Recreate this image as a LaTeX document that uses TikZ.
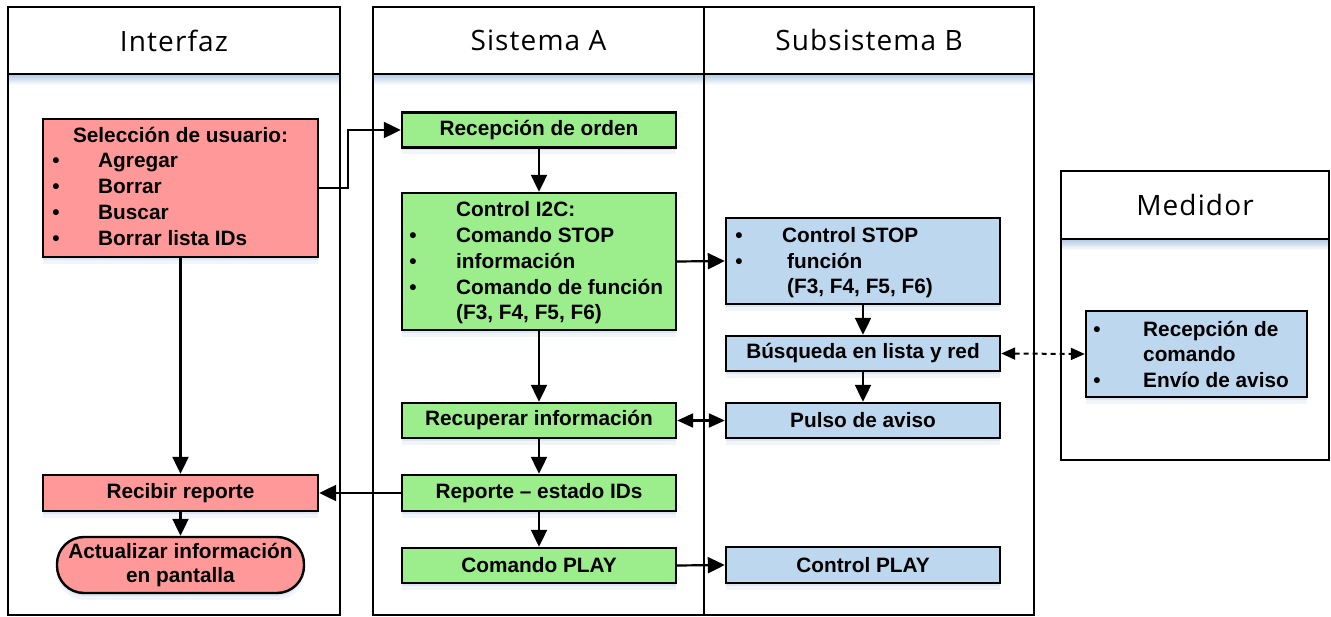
\documentclass[tikz,border=0pt]{standalone}
\usepackage{fontspec}
\setmainfont{Liberation Sans}
\newfontfamily\hdrfont{Open Sans}[LetterSpace=4]
\usetikzlibrary{arrows.meta,shadows}

\definecolor{redfill}{HTML}{FF9999}
\definecolor{greenfill}{HTML}{9CEE8C}
\definecolor{bluefill}{HTML}{BDD7EE}
\definecolor{shadowc}{HTML}{B8CCE6}

\newcommand\bodyf{\fontsize{20.8}{24}\selectfont\bfseries}

\tikzset{
  lane/.style={draw=black, line width=1.8pt},
  hdr/.style={font=\hdrfont\fontsize{28}{30}\selectfont, inner sep=0pt},
  box/.style={draw=black, line width=2.4pt, rectangle, inner sep=0pt,
    font=\bodyf,
    drop shadow={fill=shadowc, opacity=.35, shadow xshift=0pt, shadow yshift=-3pt},
    drop shadow={fill=shadowc, opacity=.2, shadow xshift=0pt, shadow yshift=-7pt}},
  redbox/.style={box, fill=redfill},
  greenbox/.style={box, fill=greenfill},
  bluebox/.style={box, fill=bluefill},
  txt/.style={font=\bodyf, inner sep=0pt},
  arr/.style={line width=2.2pt, -{Triangle[length=17pt,width=16pt]}},
  dblarr/.style={line width=2.2pt, {Triangle[length=16pt,width=14pt]}-{Triangle[length=16pt,width=14pt]}},
  dasharr/.style={line width=2pt, dash pattern=on 5pt off 4pt,
    {Triangle[length=14pt,width=12pt]}-{Triangle[length=14pt,width=12pt]}},
}

\begin{document}
\begin{tikzpicture}[x=1pt, y=-1pt]
\useasboundingbox (0,0) rectangle (1331,617);

% header shading under the lane titles
\shade[top color=shadowc, bottom color=white] (9,75) rectangle (339,85);
\shade[top color=shadowc, bottom color=white] (374,75) rectangle (1033,85);
\shade[top color=shadowc, bottom color=white] (1062,240) rectangle (1328,250);

% swim lanes
\draw[lane] (8,7) rectangle (340,615);
\draw[lane] (8,74) -- (340,74);
\draw[lane] (373,7) rectangle (704,615);
\draw[lane] (704,7) rectangle (1034,615);
\draw[lane] (373,74) -- (1034,74);
\draw[lane] (1061,171) rectangle (1329,460);
\draw[lane] (1061,239) -- (1329,239);

\node[hdr] (hint) at (174,40.5) {Interfaz};
\node[hdr] (hsa) at (538.5,40.5) {Sistema A};
\node[hdr] (hsb) at (869,40.5) {Subsistema B};
\node[hdr] (hmed) at (1195,205) {Medidor};

% Interfaz
\node[redbox, minimum width=275pt, minimum height=138pt] (sel) at (180.5,188) {};
\node[txt, anchor=base] (selt) at (180.5,143) {Selección de usuario:};
\node[txt, anchor=base] (selb1) at (56,168) {\textbullet};
\node[txt, anchor=base] (selb2) at (56,194) {\textbullet};
\node[txt, anchor=base] (selb3) at (56,220) {\textbullet};
\node[txt, anchor=base] (selb4) at (56,246) {\textbullet};
\node[txt, anchor=base west] (sel1) at (98,168) {Agregar};
\node[txt, anchor=base west] (sel2) at (98,194) {Borrar};
\node[txt, anchor=base west] (sel3) at (98,220) {Buscar};
\node[txt, anchor=base west] (sel4) at (98,246) {Borrar lista IDs};

\node[redbox, minimum width=275pt, minimum height=36pt] (recv) at (180.5,493) {Recibir reporte};
\node[redbox, rounded corners=27pt, minimum width=247pt, minimum height=56pt, align=center] (act) at (180.5,565) {Actualizar información\\en pantalla};

% Sistema A
\node[greenbox, minimum width=274pt, minimum height=35pt] (rec) at (539,130) {Recepción de orden};
\node[greenbox, minimum width=274pt, minimum height=137pt] (i2c) at (539,261.5) {};
\node[txt, anchor=base west] (i2ct) at (456,217) {Control I2C:};
\node[txt, anchor=base] (i2cb1) at (413,243) {\textbullet};
\node[txt, anchor=base] (i2cb2) at (413,269) {\textbullet};
\node[txt, anchor=base] (i2cb3) at (413,295) {\textbullet};
\node[txt, anchor=base west] (i2c1) at (456,243) {Comando STOP};
\node[txt, anchor=base west] (i2c2) at (456,269) {información};
\node[txt, anchor=base west] (i2c3) at (456,295) {Comando de función};
\node[txt, anchor=base west] (i2c4) at (456,320) {(F3, F4, F5, F6)};

\node[greenbox, minimum width=274pt, minimum height=35pt] (recup) at (539,420.5) {Recuperar información};
\node[greenbox, minimum width=274pt, minimum height=36pt] (rep) at (539,493) {Reporte -- estado IDs};
\node[greenbox, minimum width=274pt, minimum height=35pt] (play) at (539,565.5) {Comando PLAY};

% Subsistema B
\node[bluebox, minimum width=274pt, minimum height=86pt] (stop) at (863,261) {};
\node[txt, anchor=base] (stopb1) at (739,243) {\textbullet};
\node[txt, anchor=base] (stopb2) at (739,269) {\textbullet};
\node[txt, anchor=base west] (stop1) at (782,243) {Control STOP};
\node[txt, anchor=base west] (stop2) at (787,269) {función};
\node[txt, anchor=base west] (stop3) at (787,294) {(F3, F4, F5, F6)};

\node[bluebox, minimum width=274pt, minimum height=35pt] (bus) at (863,353.5) {Búsqueda en lista y red};
\node[bluebox, minimum width=274pt, minimum height=35pt] (pul) at (863,420.5) {Pulso de aviso};
\node[bluebox, minimum width=274pt, minimum height=36pt] (cplay) at (863,565) {Control PLAY};

% Medidor
\node[bluebox, minimum width=221pt, minimum height=86pt] (med) at (1196.5,354) {};
\node[txt, anchor=base] (medb1) at (1097,337) {\textbullet};
\node[txt, anchor=base] (medb2) at (1097,388) {\textbullet};
\node[txt, anchor=base west] (med1) at (1143,337) {Recepción de};
\node[txt, anchor=base west] (med2) at (1143,362) {comando};
\node[txt, anchor=base west] (med3) at (1143,388) {Envío de aviso};

% connectors
\draw[arr] (sel.east) -- ++(29,0) |- (rec.west);
\draw[arr] (sel.south) -- (recv.north);
\draw[arr] (recv.south) -- (act.north);
\draw[arr] (rec.south) -- (i2c.north);
\draw[arr] (i2c.south) -- (recup.north);
\draw[arr] (recup.south) -- (rep.north);
\draw[arr] (rep.south) -- (play.north);
\draw[arr] (rep.west) -- (recv.east);
\draw[arr] (i2c.east) -- (stop.west);
\draw[arr] (stop.south) -- (bus.north);
\draw[arr] (bus.south) -- (pul.north);
\draw[dblarr] (recup.east) -- (pul.west);
\draw[dasharr] (bus.east) -- (med.west);
\draw[arr] (play.east) -- (cplay.west);
\end{tikzpicture}
\end{document}
